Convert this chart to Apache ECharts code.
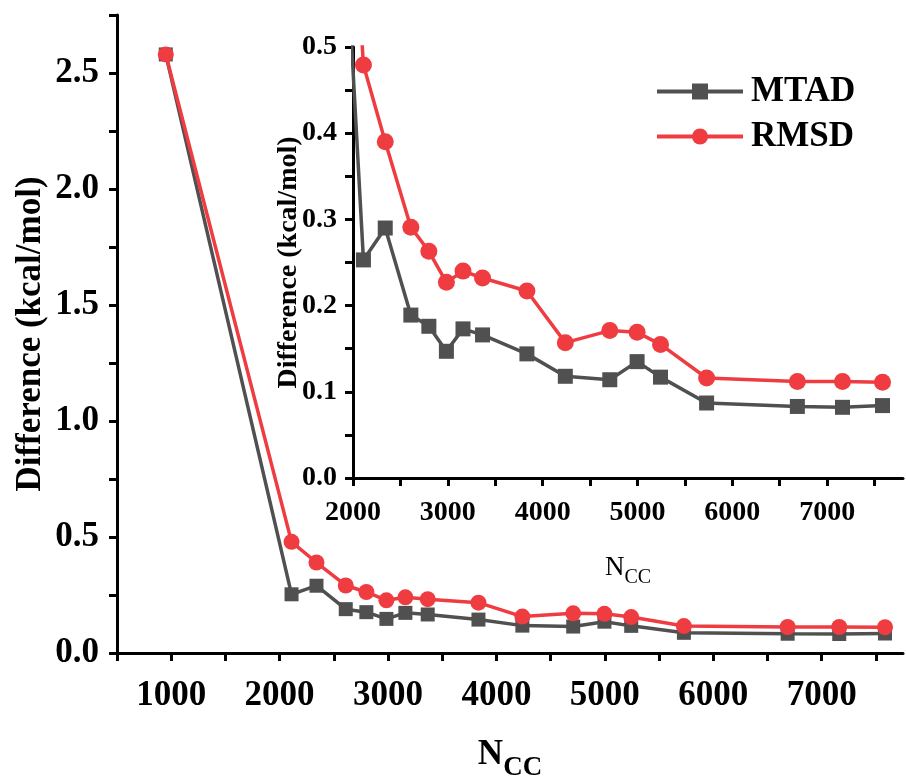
<!DOCTYPE html>
<html>
<head>
<meta charset="utf-8">
<script src="https://cdn.jsdelivr.net/npm/echarts@6/dist/echarts.min.js"></script>
<style>
html,body{margin:0;padding:0;background:#fff;}
#chart{width:906px;height:776px;}
</style>
</head>
<body>
<div id="chart"></div>
<script>
// ---- data ----
var nccValues  = [950, 2110, 2340, 2610, 2800, 2985, 3160, 3366, 3834, 4239, 4708, 4996, 5243, 5729, 6686, 7162, 7584];
var mtadValues = [2.58, 0.253, 0.290, 0.189, 0.176, 0.147, 0.173, 0.166, 0.144, 0.118, 0.114, 0.135, 0.117, 0.087, 0.083, 0.082, 0.084];
var rmsdValues = [2.58, 0.479, 0.390, 0.291, 0.263, 0.227, 0.240, 0.232, 0.217, 0.157, 0.171, 0.169, 0.155, 0.116, 0.112, 0.112, 0.111];
var seriesNames = ['MTAD', 'RMSD'];

var mainXTicks  = [500, 1000, 1500, 2000, 2500, 3000, 3500, 4000, 4500, 5000, 5500, 6000, 6500, 7000, 7500];
var mainXLabels = [1000, 2000, 3000, 4000, 5000, 6000, 7000];
var mainYTicks  = [0, 0.25, 0.5, 0.75, 1.0, 1.25, 1.5, 1.75, 2.0, 2.25, 2.5, 2.75];
var mainYLabels = [0, 0.5, 1.0, 1.5, 2.0, 2.5];
var insetXTicks  = [2000, 2500, 3000, 3500, 4000, 4500, 5000, 5500, 6000, 6500, 7000, 7500];
var insetXLabels = [2000, 3000, 4000, 5000, 6000, 7000];
var insetYTicks  = [0, 0.05, 0.1, 0.15, 0.2, 0.25, 0.3, 0.35, 0.4, 0.45, 0.5];
var insetYLabels = [0, 0.1, 0.2, 0.3, 0.4, 0.5];

function pairs(xs, ys){ return xs.map(function(x,i){ return [x, ys[i]]; }); }

var FONT = "'Liberation Serif','Times New Roman',serif";
var GRAY = '#505050';
var RED  = '#ef3c41';

function axisCommon(tickVals, labelVals, fontSize, fmt, labelMargin){
  return {
    axisLine: {show: true, onZero: false, lineStyle: {color: '#000', width: 3}},
    axisTick: {show: true, inside: false, length: 8, lineStyle: {color: '#000', width: 3}, customValues: tickVals},
    axisLabel: {show: true, customValues: labelVals, color: '#000', fontFamily: FONT, fontWeight: 'bold',
                fontSize: fontSize, margin: labelMargin, formatter: fmt},
    splitLine: {show: false}
  };
}

var chart = echarts.init(document.getElementById('chart'), null, {renderer: 'canvas'});

var xMain = Object.assign({type: 'value', gridIndex: 0, min: 500, max: 7750,
  name: '{n|N}{s|CC}', nameLocation: 'middle', nameGap: 84, nameMoveOverlap: false,
  nameTextStyle: {rich: {
    n: {fontFamily: FONT, fontWeight: 'bold', fontSize: 35, color: '#000', lineHeight: 40, verticalAlign: 'top'},
    s: {fontFamily: FONT, fontWeight: 'bold', fontSize: 27, color: '#000', lineHeight: 27, padding: [18,0,0,0], verticalAlign: 'top'}
  }}
}, axisCommon(mainXTicks, mainXLabels, 35, function(v){return String(v);}, 25));

var yMain = Object.assign({type: 'value', gridIndex: 0, min: 0, max: 2.75,
  name: 'Difference (kcal/mol)', nameLocation: 'middle', nameGap: 69, nameRotate: 90, nameMoveOverlap: false,
  nameTextStyle: {fontFamily: FONT, fontWeight: 'bold', fontSize: 35, color: '#000'}
}, axisCommon(mainYTicks, mainYLabels, 35, function(v){return v.toFixed(1);}, 18));

var xInset = Object.assign({type: 'value', gridIndex: 1, min: 2000, max: 7800,
  name: '{n|N}{s|CC}', nameLocation: 'middle', nameGap: 76, nameMoveOverlap: false,
  nameTextStyle: {rich: {
    n: {fontFamily: FONT, fontSize: 27, color: '#000', lineHeight: 30, verticalAlign: 'top'},
    s: {fontFamily: FONT, fontSize: 20, color: '#000', lineHeight: 20, padding: [14,0,0,0], verticalAlign: 'top'}
  }}
}, axisCommon(insetXTicks, insetXLabels, 28, function(v){return String(v);}, 21));

var yInset = Object.assign({type: 'value', gridIndex: 1, min: 0, max: 0.5,
  name: 'Difference (kcal/mol)', nameLocation: 'middle', nameGap: 50, nameRotate: 90, nameMoveOverlap: false,
  nameTextStyle: {fontFamily: FONT, fontWeight: 'bold', fontSize: 28, color: '#000'}
}, axisCommon(insetYTicks, insetYLabels, 28, function(v){return v.toFixed(1);}, 16));

function mkSeries(name, ys, axisIdx, color, symbol, size){
  return {
    name: name, type: 'line', xAxisIndex: axisIdx, yAxisIndex: axisIdx,
    data: pairs(nccValues, ys),
    symbol: symbol, symbolSize: size, showSymbol: true, clip: true,
    lineStyle: {color: color, width: 3.5},
    itemStyle: {color: color, borderWidth: 0},
    animation: false, z: name === 'RMSD' ? 3 : 2
  };
}

chart.setOption({
  animation: false,
  backgroundColor: '#fff',
  grid: [
    {left: 117, top: 15, right: 3, bottom: 123, containLabel: false, outerBoundsMode: 'none'},
    {left: 353, top: 47, right: 3, bottom: 298, containLabel: false, outerBoundsMode: 'none'}
  ],
  xAxis: [xMain, xInset],
  yAxis: [yMain, yInset],
  legend: {
    orient: 'vertical', left: 650, top: 68, itemWidth: 86, itemHeight: 20, itemGap: 8,
    data: seriesNames,
    lineStyle: {width: 4},
    textStyle: {fontFamily: FONT, fontWeight: 'bold', fontSize: 35, color: '#000', lineHeight: 37, padding: [0,0,0,3]}
  },
  series: [
    mkSeries('MTAD', mtadValues, 0, GRAY, 'rect', 14),
    mkSeries('RMSD', rmsdValues, 0, RED, 'circle', 16),
    mkSeries('MTAD', mtadValues, 1, GRAY, 'rect', 15),
    mkSeries('RMSD', rmsdValues, 1, RED, 'circle', 17)
  ]
});
</script>
</body>
</html>
